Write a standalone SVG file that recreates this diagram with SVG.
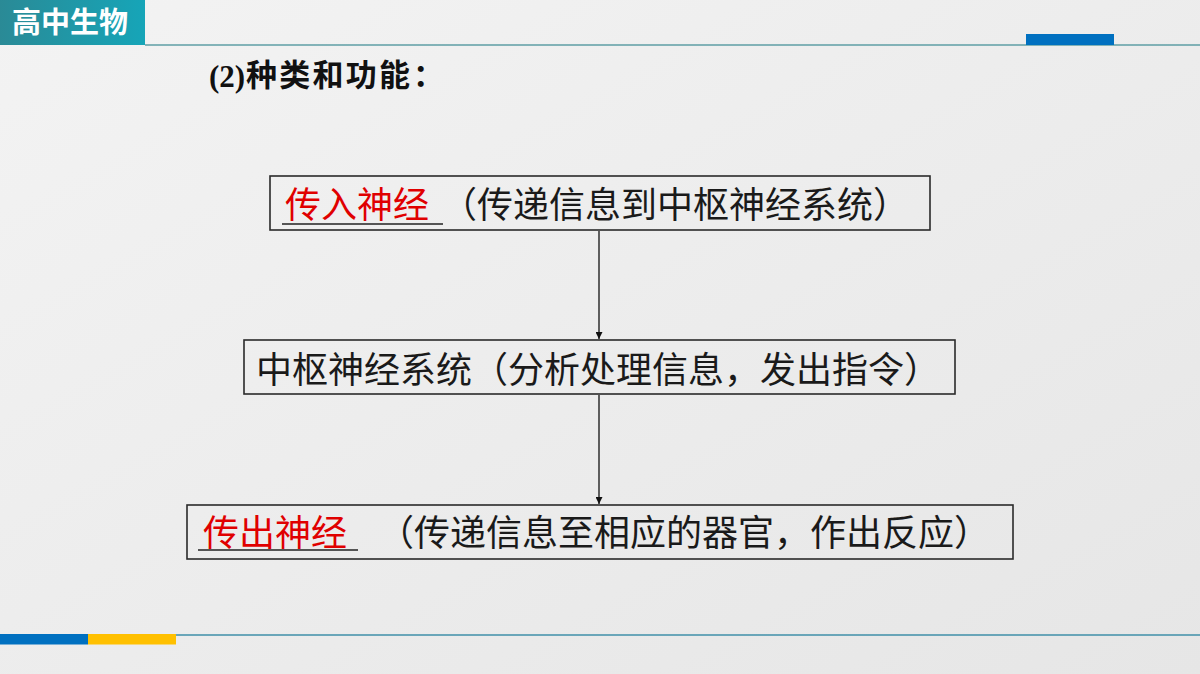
<svg xmlns="http://www.w3.org/2000/svg" width="1200" height="674" viewBox="0 0 1200 674">
<defs>
<linearGradient id="bg" x1="0" y1="0" x2="1" y2="1">
<stop offset="0" stop-color="#f3f3f3"/>
<stop offset="1" stop-color="#e6e6e6"/>
</linearGradient>
<linearGradient id="hd" x1="0" y1="0" x2="1" y2="0">
<stop offset="0" stop-color="#2a8a96"/>
<stop offset="1" stop-color="#16a5b8"/>
</linearGradient>
<marker id="ah" viewBox="0 0 10 10" refX="10" refY="5" markerWidth="7" markerHeight="7" markerUnits="userSpaceOnUse" orient="auto">
<path d="M0,0 L10,5 L0,10 z" fill="#111"/>
</marker>
<style>
.box{fill:none;stroke:#2a2a2a;stroke-width:1.6}
.t{font-family:"Noto Sans CJK SC","Noto Sans",sans-serif;font-size:36px;fill:#1a1a1a}
.red{fill:#e00000}
.ul{stroke:#222;stroke-width:1.5}
.conn{stroke:#111;stroke-width:1.3;fill:none}
</style>
</defs>
<rect x="0" y="0" width="1200" height="674" fill="url(#bg)"/>
<g id="header">
<rect x="0" y="0" width="145" height="45" fill="url(#hd)"/>
<text x="12" y="33" font-family="'Noto Sans CJK SC',sans-serif" font-weight="bold" font-size="29" fill="#ffffff">高中生物</text>
<line x1="145" y1="45" x2="1200" y2="45" stroke="#5e9ea4" stroke-width="1.5"/>
<rect x="1026" y="34" width="88" height="11" fill="#0070c0"/>
</g>
<g id="footer">
<rect x="0" y="634" width="88" height="10.5" fill="#0070c0"/>
<rect x="88" y="634" width="88" height="10.5" fill="#ffc000"/>
<line x1="176" y1="635" x2="1200" y2="635" stroke="#3f8fa8" stroke-width="1.3"/>
</g>
<g id="title">
<text x="209" y="87" font-family="'Liberation Serif',serif" font-weight="bold" font-size="31" fill="#111">(2)</text>
<text x="246" y="86" font-family="'Noto Sans CJK SC',sans-serif" font-weight="bold" font-size="31" fill="#111" textLength="164" lengthAdjust="spacing">种类和功能</text>
<text x="413" y="86" font-family="'Noto Sans CJK SC',sans-serif" font-weight="bold" font-size="31" fill="#111">：</text>
</g>
<g id="connectors">
<line class="conn" x1="599" y1="231" x2="599" y2="339" marker-end="url(#ah)"/>
<line class="conn" x1="599" y1="395" x2="599" y2="504" marker-end="url(#ah)"/>
</g>
<g id="node-afferent">
<rect class="box" x="270" y="176" width="660" height="54"/>
<text class="t red" x="285" y="218">传入神经</text>
<line class="ul" x1="282" y1="224" x2="443" y2="224"/>
<text class="t" x="441" y="218">（传递信息到中枢神经系统）</text>
</g>
<g id="node-cns">
<rect class="box" x="244" y="340" width="711" height="54"/>
<text class="t" x="256" y="383">中枢神经系统（分析处理信息，发出指令）</text>
</g>
<g id="node-efferent">
<rect class="box" x="187" y="505" width="826" height="54"/>
<text class="t red" x="203" y="546">传出神经</text>
<line class="ul" x1="198" y1="550" x2="358" y2="550"/>
<text class="t" x="378" y="546">（传递信息至相应的器官，作出反应）</text>
</g>
</svg>
